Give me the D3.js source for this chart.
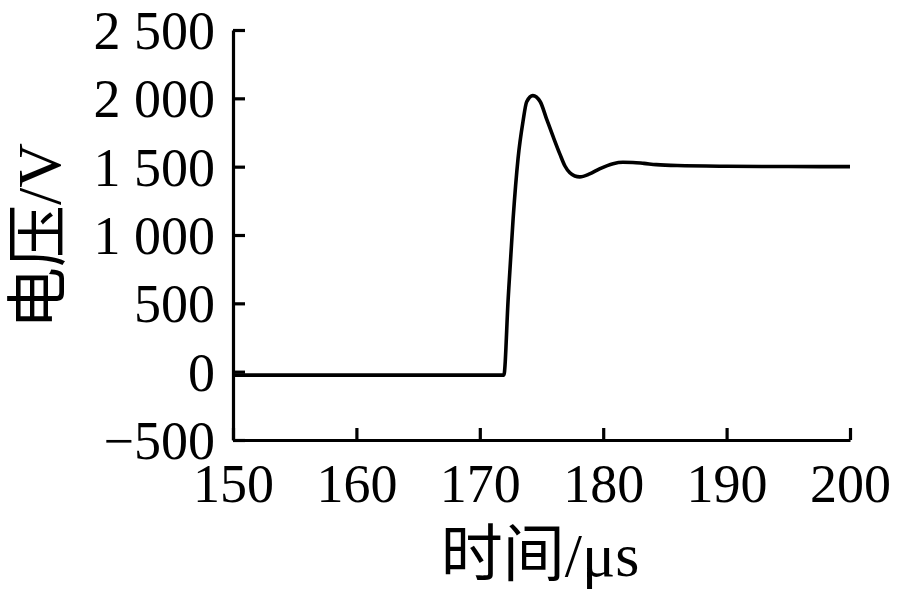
<!DOCTYPE html>
<html>
<head>
<meta charset="utf-8">
<script src="https://cdn.jsdelivr.net/npm/d3@7"></script>
<style>
  html, body { margin: 0; padding: 0; background: #fff; }
  svg { display: block; }
  text { font-family: "Liberation Serif", "Noto Sans CJK SC", serif; fill: #000; }
</style>
</head>
<body>
<svg id="chart" width="910" height="598"></svg>
<script>
// Data
const timeUs = [150, 171.95, 172.3, 172.7, 173.1, 173.5, 173.8, 174.3, 174.9, 175.4, 175.95, 176.5, 176.9, 177.3, 177.7, 178.1, 178.9, 179.7, 180.8, 181.6, 182.4, 183.3, 184.3, 186.0, 190, 195, 200];
const voltage = [-25, -25, 534, 1120, 1560, 1830, 1975, 2020, 1975, 1852, 1718, 1590, 1505, 1455, 1432, 1425, 1447, 1484, 1522, 1532, 1531, 1524, 1515, 1508, 1503, 1501, 1500];
const xTicks = [150, 160, 170, 180, 190, 200];
const yTicks = [-500, 0, 500, 1000, 1500, 2000, 2500];
const yTickLabels = ["\u2212500", "0", "500", "1 000", "1 500", "2 000", "2 500"];
const xTitle = "时间/μs";
const yTitle = "电压/V";

const svg = d3.select("#chart");
const mLeft = 233, mRight = 850, mTop = 30, mBottom = 440;

const x = d3.scaleLinear().domain([150, 200]).range([mLeft, mRight]);
const y = d3.scaleLinear().domain([-500, 2500]).range([mBottom, mTop]);

// X axis (ticks pointing inward / upward)
const xAxis = d3.axisBottom(x).tickValues(xTicks).tickSizeInner(-12).tickSizeOuter(0).tickPadding(0).tickFormat("");
const gx = svg.append("g").attr("transform", `translate(0,${mBottom})`).call(xAxis);
gx.select(".domain").attr("stroke", "#000").attr("stroke-width", 3.2);
gx.selectAll(".tick line").attr("stroke", "#000").attr("stroke-width", 3.2);
gx.selectAll(".tick").append("text")
  .attr("y", 62).attr("text-anchor", "middle")
  .style("font-size", "54px")
  .text(d => d);

// Y axis (ticks pointing inward / right)
const yAxis = d3.axisLeft(y).tickValues(yTicks).tickSizeInner(-12).tickSizeOuter(0).tickFormat("");
const gy = svg.append("g").attr("transform", `translate(${mLeft},0)`).call(yAxis);
gy.select(".domain").attr("stroke", "#000").attr("stroke-width", 3.2);
gy.selectAll(".tick line").attr("stroke", "#000").attr("stroke-width", 3.2);
gy.selectAll(".tick").append("text")
  .attr("x", -18).attr("dy", "0.34em").attr("text-anchor", "end")
  .style("font-size", "54px")
  .text(d => yTickLabels[yTicks.indexOf(d)]);

// Data line
const line = d3.line().x((d, i) => x(timeUs[i])).y(d => y(d)).curve(d3.curveMonotoneX);
svg.append("path")
  .datum(voltage)
  .attr("d", line)
  .attr("fill", "none")
  .attr("stroke", "#000")
  .attr("stroke-width", 3.6)
  .attr("stroke-linejoin", "round");

// Axis titles
svg.append("text")
  .attr("x", 540).attr("y", 576).attr("text-anchor", "middle")
  .style("font-size", "62px")
  .text(xTitle);

svg.append("text")
  .attr("transform", "translate(60,236) rotate(-90)")
  .attr("text-anchor", "middle")
  .style("font-size", "62px")
  .text(yTitle);
</script>
</body>
</html>
